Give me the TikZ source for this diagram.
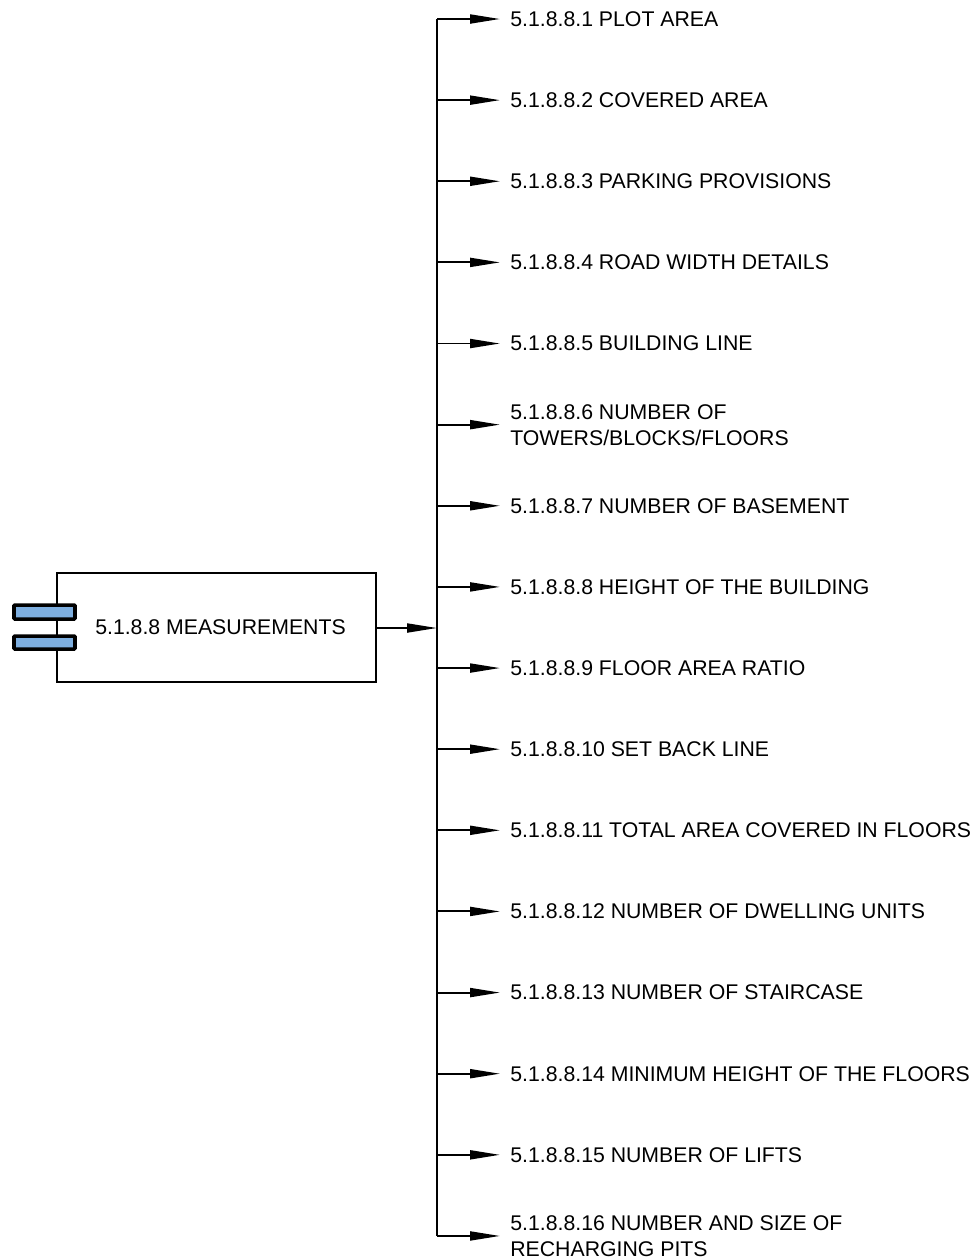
\documentclass[tikz,border=0pt]{standalone}
\usepackage{fontspec}
\setmainfont{Liberation Sans}
\usetikzlibrary{arrows.meta}
\definecolor{compblue}{RGB}{125,174,223}

\tikzset{
  lbl/.style={anchor=west,inner xsep=0.2cm,inner ysep=0pt,align=left,text depth=0pt,
    font=\fontsize{12.1}{14.75}\selectfont},
  link/.style={line width=1.1pt,-{Triangle[length=0.6cm,width=0.18cm]}},
  port/.style={fill=compblue,draw=black,line width=2pt,rounded corners=0.5pt}
}

\begin{document}
\begin{tikzpicture}[x=0.02cm,y=-0.02cm]
\useasboundingbox (0,0) rectangle (977,1259);

% component box
\node[draw,line width=1.1pt,minimum width=6.38cm,minimum height=2.18cm,inner sep=0pt,
  font=\fontsize{12.1}{14.75}\selectfont] (meas) at (216.5,627.5) {\hspace{0.16cm}5.1.8.8 MEASUREMENTS};
\filldraw[port] (14,605) rectangle (75,619);
\filldraw[port] (14,636) rectangle (75,649);

% bus
\coordinate (bustop) at (437,19);
\coordinate (busbot) at (437,1236);
\coordinate (busin) at (437,628);
\draw[line width=1.1pt] (bustop) -- (busbot);
\draw[link] (meas.east |- busin) -- (busin);

\foreach \i/\txt in {
  1/{5.1.8.8.1 PLOT AREA},
  2/{5.1.8.8.2 COVERED AREA},
  3/{5.1.8.8.3 PARKING PROVISIONS},
  4/{5.1.8.8.4 ROAD WIDTH DETAILS},
  5/{5.1.8.8.5 BUILDING LINE},
  6/{5.1.8.8.6 NUMBER OF\\TOWERS/BLOCKS/FLOORS},
  7/{5.1.8.8.7 NUMBER OF BASEMENT},
  8/{5.1.8.8.8 HEIGHT OF THE BUILDING},
  9/{5.1.8.8.9 FLOOR AREA RATIO},
  10/{5.1.8.8.10 SET BACK LINE},
  11/{5.1.8.8.11 TOTAL AREA COVERED IN FLOORS},
  12/{5.1.8.8.12 NUMBER OF DWELLING UNITS},
  13/{5.1.8.8.13 NUMBER OF STAIRCASE},
  14/{5.1.8.8.14 MINIMUM HEIGHT OF THE FLOORS},
  15/{5.1.8.8.15 NUMBER OF LIFTS},
  16/{5.1.8.8.16 NUMBER AND SIZE OF\\RECHARGING PITS}}{
  \pgfmathsetmacro\yy{19+(\i-1)*81.13}
  \coordinate (bus\i) at (437,\yy);
  \node[lbl] (item\i) at (500,\yy) {\txt};
  \draw[link] (bus\i) -- (item\i.west);
}
\end{tikzpicture}
\end{document}
